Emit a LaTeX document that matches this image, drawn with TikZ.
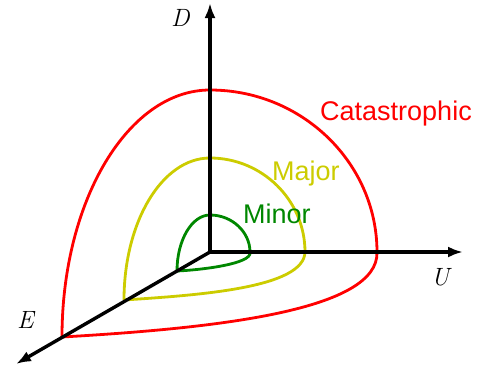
\documentclass[tikz,border=0pt]{standalone}
\usepackage{fontspec}
\newfontfamily\labelfont{Liberation Sans}
\usepackage{tikz}
\usetikzlibrary{arrows.meta, positioning}
\definecolor{catred}{RGB}{255,0,0}
\definecolor{majyellow}{RGB}{204,204,0}
\definecolor{mingreen}{RGB}{0,135,0}
\tikzset{
    axis/.style={line width=3.4pt, black, -{Latex[length=15pt,width=11pt]}},
    level/.style={line width=2.8pt, line join=round},
    levellabel/.style={anchor=base west, inner sep=0pt, font=\labelfont\fontsize{27}{31}\selectfont},
    axislabel/.style={anchor=base west, inner sep=0pt, font=\itshape\fontsize{25}{29}\selectfont}
}
\begin{document}
\begin{tikzpicture}[x=1pt, y=-1pt]
    \useasboundingbox (0,0) rectangle (477,372);

    % Origin and axis tips
    \coordinate (O) at (210,252);
    \coordinate (Dtip) at (210,3);
    \coordinate (Utip) at (463,252);
    \coordinate (Etip) at (16,364);

    % Catastrophic
    \coordinate (cD) at (210,90);
    \coordinate (cU) at (377,252);
    \coordinate (cE) at (62,337);
    \draw [level, catred] (cE) .. controls (62,201) and (128,90) .. (cD)
        .. controls (302,90) and (377,163) .. (cU)
        .. controls (379,310) and (220,328) .. (cE);

    % Major
    \coordinate (mD) at (210,158);
    \coordinate (mU) at (305,252);
    \coordinate (mE) at (124,300);
    \draw [level, majyellow] (mE) .. controls (124,222) and (162,158) .. (mD)
        .. controls (262,158) and (305,200) .. (mU)
        .. controls (304,288) and (200,295) .. (mE);

    % Minor
    \coordinate (nD) at (210,215);
    \coordinate (nU) at (250,252);
    \coordinate (nE) at (177,271);
    \draw [level, mingreen] (nE) .. controls (177,240) and (192,215) .. (nD)
        .. controls (232,215) and (250,232) .. (nU)
        .. controls (253,264) and (200,270) .. (nE);

    % Axes
    \draw [axis] (O) -- (Dtip);
    \draw [axis] (O) -- (Utip);
    \draw [axis] (O) -- (Etip);

    % Axis labels
    \node (labD) [axislabel] at (171,26) {D};
    \node (labU) [axislabel] at (431,285) {U};
    \node (labE) [axislabel] at (17,328) {E};

    % Level labels
    \node (labCat) [levellabel, text=catred] at (320,120) {Catastrophic};
    \node (labMaj) [levellabel, text=majyellow] at (272,180) {Major};
    \node (labMin) [levellabel, text=mingreen] at (243,223) {Minor};
\end{tikzpicture}
\end{document}
